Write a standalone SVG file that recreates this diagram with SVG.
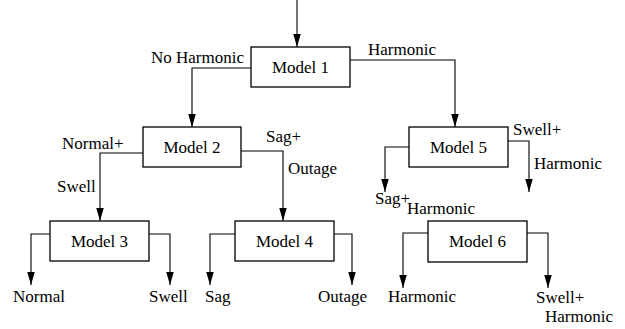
<svg xmlns="http://www.w3.org/2000/svg" width="625" height="329" viewBox="0 0 625 329">
<style>
.box{fill:#fff;stroke:#000;stroke-width:1.3}
.c{fill:none;stroke:#000;stroke-width:1.1;marker-end:url(#ah)}
.m{text-anchor:middle}
</style>
<defs>
<marker id="ah" markerUnits="userSpaceOnUse" markerWidth="14" markerHeight="8" refX="13" refY="3.75" orient="auto">
<path d="M0,0 L13,3.75 L0,7.5 z" fill="#000"/>
</marker>
</defs>
<rect width="625" height="329" fill="#fff"/>
<g id="connectors">
<path class="c" d="M297,0 V47"/>
<path class="c" d="M251,68 H192 V127"/>
<path class="c" d="M350,60 H455 V127"/>
<path class="c" d="M143,153 H100 V221"/>
<path class="c" d="M241,151 H283 V221"/>
<path class="c" d="M409,147 H385 V192"/>
<path class="c" d="M508,141 H529 V192"/>
<path class="c" d="M50,234 H31 V285"/>
<path class="c" d="M149,234 H170 V285"/>
<path class="c" d="M235,234 H210 V285"/>
<path class="c" d="M334,234 H352 V285"/>
<path class="c" d="M428,233 H403 V288"/>
<path class="c" d="M527,233 H548 V288"/>
</g>
<g font-family="Liberation Serif, Times New Roman, serif" font-size="17" fill="#000">
<g id="labels">
<text x="151" y="63">No Harmonic</text>
<text x="368" y="55">Harmonic</text>
<text x="62" y="149">Normal+</text>
<text x="57" y="192">Swell</text>
<text x="266" y="142">Sag+</text>
<text x="288" y="174">Outage</text>
<text x="513" y="135">Swell+</text>
<text x="534" y="169">Harmonic</text>
<text x="375" y="204">Sag+</text>
<text x="407" y="214">Harmonic</text>
<text x="13" y="302">Normal</text>
<text x="149" y="302">Swell</text>
<text x="205" y="302">Sag</text>
<text x="318" y="302">Outage</text>
<text x="388" y="302">Harmonic</text>
<text x="536" y="303">Swell+</text>
<text x="545" y="322">Harmonic</text>
</g>
<g id="model1"><rect class="box" x="251" y="47" width="99" height="40"/><text class="m" x="300.5" y="73">Model 1</text></g>
<g id="model2"><rect class="box" x="143" y="127" width="98" height="40"/><text class="m" x="192" y="153">Model 2</text></g>
<g id="model5"><rect class="box" x="409" y="127" width="99" height="40"/><text class="m" x="458.5" y="153">Model 5</text></g>
<g id="model3"><rect class="box" x="50" y="221" width="99" height="40"/><text class="m" x="99.5" y="247">Model 3</text></g>
<g id="model4"><rect class="box" x="235" y="221" width="99" height="40"/><text class="m" x="284.5" y="247">Model 4</text></g>
<g id="model6"><rect class="box" x="428" y="221" width="99" height="41"/><text class="m" x="477.5" y="247">Model 6</text></g>
</g>
</svg>
